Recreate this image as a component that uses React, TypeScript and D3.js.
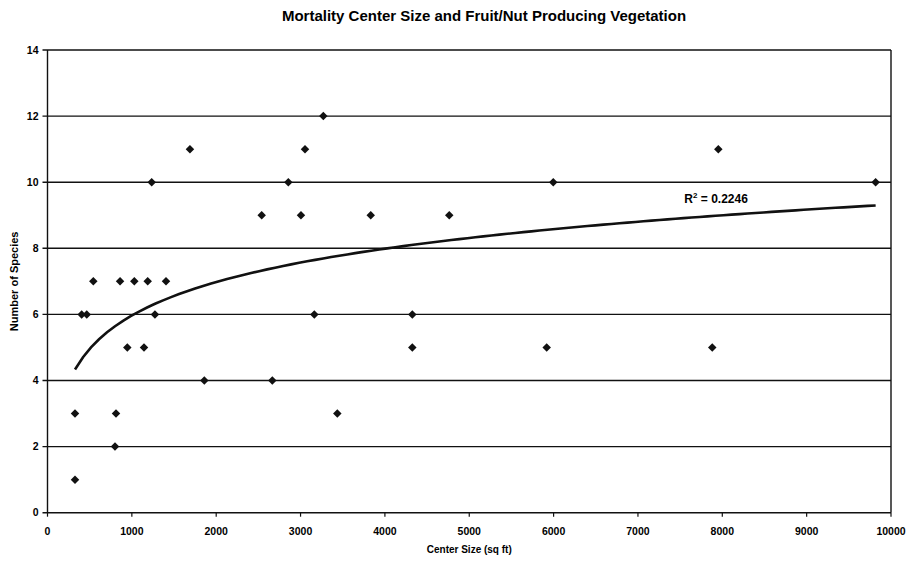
import React from 'react'
import * as d3 from 'd3'

// center size (sq ft) vs number of species
const centerSize = [
  326, 326, 812, 800, 405, 465, 543, 860, 1029, 1188, 1405, 946, 1144, 1274,
  1235, 1689, 1859, 2539, 2665, 2855, 3005, 3053, 3270, 3163, 3436, 3832,
  4325, 4325, 4763, 5918, 5996, 7881, 7953, 9818
]
const species = [
  1, 3, 3, 2, 6, 6, 7, 7, 7, 7, 7, 5, 5, 6,
  10, 11, 4, 9, 4, 10, 9, 11, 12, 6, 3, 9,
  6, 5, 9, 5, 10, 5, 11, 10
]
const xTicks = [0, 1000, 2000, 3000, 4000, 5000, 6000, 7000, 8000, 9000, 10000]
const yTicks = [0, 2, 4, 6, 8, 10, 12, 14]
const rSquared = '0.2246'
// log trendline y = a*ln(x) + b, as drawn on the original
const trendA = 1.458
const trendB = -4.105

const W = 913
const H = 567
const margin = { left: 47.5, right: 22, top: 50, bottom: 54.3 }
const font = "'Liberation Sans', Arial, sans-serif"

export default function App () {
  const x = d3.scaleLinear().domain([0, 10000]).range([margin.left, W - margin.right])
  const y = d3.scaleLinear().domain([0, 14]).range([H - margin.bottom, margin.top])

  const points = centerSize.map((c, i) => ({ c, s: species[i] }))
  const [xmin, xmax] = d3.extent(centerSize) as [number, number]
  const trendX = d3.range(0, 101).map(i => xmin + (xmax - xmin) * i / 100)
  const trend = d3.line<number>()
    .x(d => x(d))
    .y(d => y(trendA * Math.log(d) + trendB))

  const diamond = d3.symbol().type(d3.symbolDiamond2).size(46)()

  const bottom = y(0)

  return (
    <svg width={W} height={H} style={{ position: 'absolute', left: 0, top: 0, background: '#fff' }}
      fontFamily={font}>
      <text x={484} y={21} textAnchor='middle' fontSize={15} fontWeight='bold'>
        Mortality Center Size and Fruit/Nut Producing Vegetation
      </text>

      {yTicks.map(t => (
        <g key={'y' + t}>
          <line x1={x(0) - 5} x2={x(10000)} y1={y(t)} y2={y(t)} stroke='#111' strokeWidth={1.4} />
          <text x={x(0) - 9} y={y(t)} dy='0.35em' textAnchor='end' fontSize={10.5} fontWeight='bold'>{t}</text>
        </g>
      ))}

      {xTicks.map(t => (
        <g key={'x' + t}>
          <line x1={x(t)} x2={x(t)} y1={bottom} y2={bottom + 4} stroke='#111' strokeWidth={1.2} />
          <text x={x(t)} y={bottom + 22} textAnchor='middle' fontSize={10.5} fontWeight='bold'>{t}</text>
        </g>
      ))}

      <line x1={x(0)} x2={x(0)} y1={y(14)} y2={bottom} stroke='#111' strokeWidth={1.4} />
      <line x1={x(10000)} x2={x(10000)} y1={y(14)} y2={bottom} stroke='#111' strokeWidth={1.4} />

      {points.map((p, i) => (
        <path key={i} d={diamond || ''} transform={`translate(${x(p.c)},${y(p.s)})`} fill='#111' />
      ))}

      <path d={trend(trendX) || ''} fill='none' stroke='#111' strokeWidth={2.6} />

      <text x={x(7550)} y={y(9.38)} fontSize={12} fontWeight='bold'>
        R<tspan dy={-5} fontSize={8}>2</tspan><tspan dy={5}> = {rSquared}</tspan>
      </text>

      <text x={(x(0) + x(10000)) / 2} y={553} textAnchor='middle' fontSize={10} fontWeight='bold'>
        Center Size (sq ft)
      </text>
      <text transform={`translate(18,${(y(0) + y(14)) / 2}) rotate(-90)`} textAnchor='middle'
        fontSize={11} fontWeight='bold'>
        Number of Species
      </text>
    </svg>
  )
}
